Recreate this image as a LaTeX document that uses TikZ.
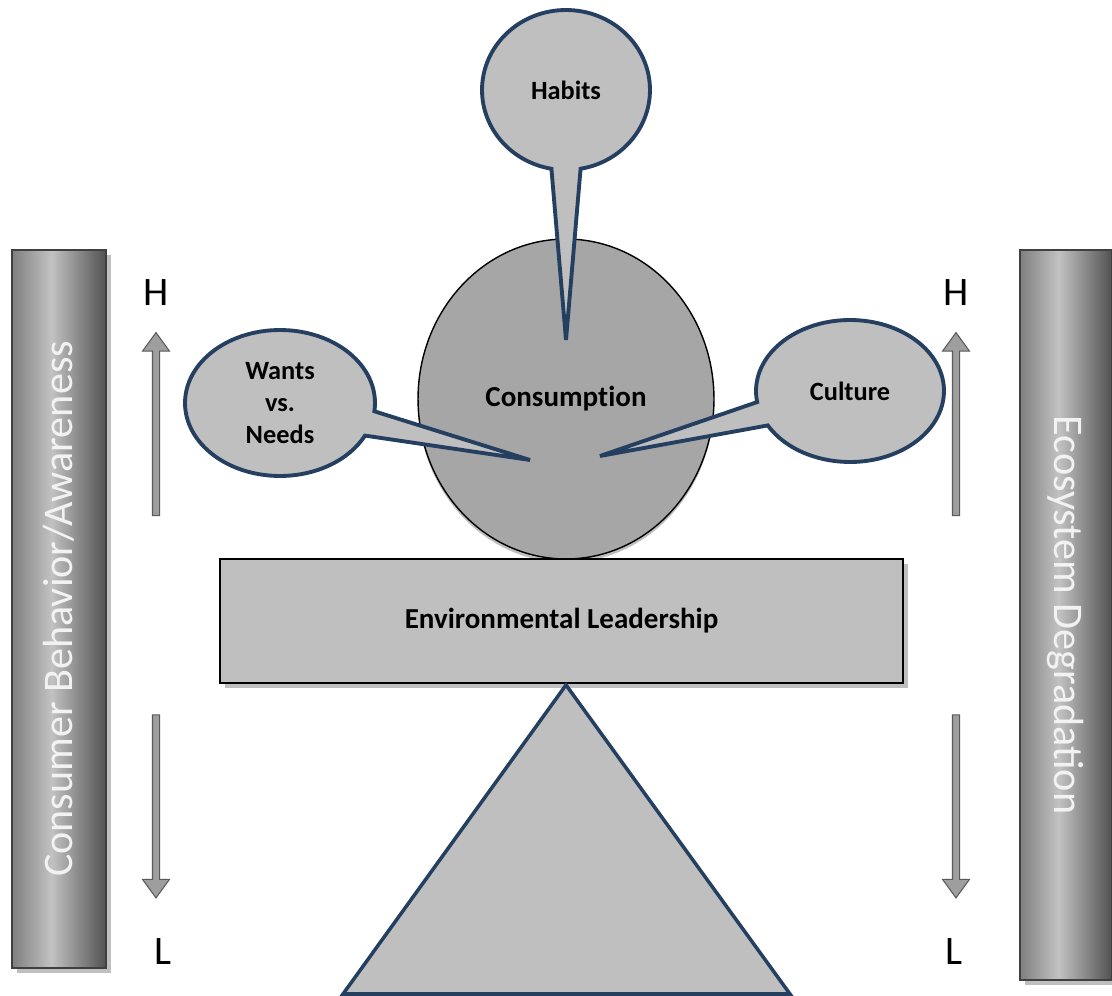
\documentclass[tikz,border=0pt]{standalone}
\usepackage{fontspec}
\setmainfont{Carlito}
\usetikzlibrary{arrows.meta, calc, shapes.geometric, shapes.callouts, shapes.arrows, shadows}

\definecolor{navy}{HTML}{243F60}
\definecolor{lightfill}{HTML}{BFBFBF}
\definecolor{darkfill}{HTML}{A6A6A6}

\pgfdeclarehorizontalshading{barshade}{100bp}{color(0bp)=(black!50); color(25bp)=(black!50);
  color(46bp)=(black!24); color(75bp)=(black!68); color(100bp)=(black!68)}

\tikzset{
  bubble/.style={ellipse callout, draw=navy, line width=2.2pt, fill=lightfill, inner sep=0pt,
    callout pointer arc=20, font=\fontsize{15}{18}\selectfont\bfseries, align=center},
  sidebar/.style={draw=black!75, line width=1pt, shading=barshade, inner sep=0pt,
    drop shadow={shadow xshift=3pt, shadow yshift=-3pt, fill=black!25, opacity=1}},
  bartext/.style={text=black!5, font=\fontsize{24}{28}\selectfont},
  level/.style={font=\fontsize{23}{27}\selectfont},
  trend/.style={single arrow, draw=black!65, line width=0.6pt, fill=black!38, inner sep=0.06cm,
    minimum height=3.66cm, single arrow head extend=0.2cm,
    single arrow tip angle=72, single arrow head indent=0pt},
  boldtext/.style={font=\fontsize{16.5}{20}\selectfont\bfseries}
}

\begin{document}
\begin{tikzpicture}[x=0.02cm, y=-0.02cm]
    \useasboundingbox (0,0) rectangle (1112,996);

    % side bars
    \node [sidebar, minimum width=1.88cm, minimum height=14.36cm] (cbar) at (59,609) {};
    \node [bartext, rotate=90] (ctext) at (cbar) {Consumer Behavior/Awareness};
    \node [sidebar, minimum width=1.84cm, minimum height=14.6cm] (ebar) at (1066,615) {};
    \node [bartext, rotate=-90] (etext) at (ebar) {Ecosystem Degradation};

    % high / low markers
    \node [level] (hleft) at (156,293) {H};
    \node [level] (lleft) at (163,952) {L};
    \node [level] (hright) at (956,293) {H};
    \node [level] (lright) at (954,952) {L};
    \node [trend, shape border rotate=90] (upleft) at (156,426.5) {};
    \node [trend, shape border rotate=270] (downleft) at (156,804) {};
    \node [trend, shape border rotate=90] (upright) at (956,426.5) {};
    \node [trend, shape border rotate=270] (downright) at (956,804) {};

    % consumption and its base
    \node [ellipse, draw, line width=0.8pt, fill=darkfill, inner sep=0pt, boldtext,
           minimum width=5.92cm, minimum height=6.4cm,
           drop shadow={shadow xshift=0pt, shadow yshift=-2pt, fill=black!25, opacity=1}] (cons) at (566,399) {Consump\mbox{t}ion};
    \node [draw, line width=1.1pt, fill=lightfill, boldtext, minimum width=13.66cm, minimum height=2.48cm,
           drop shadow={shadow xshift=3pt, shadow yshift=-3pt, fill=black!25, opacity=1}] (lead) at (561.5,621) {Environmental Leadership};
    \coordinate (apex) at (566,685);
    \coordinate (baseL) at (343,994);
    \coordinate (baseR) at (790,994);
    \draw [draw=navy, line width=2pt, fill=lightfill, line join=miter] (apex) -- (baseL) -- (baseR) -- cycle;

    % callouts
    \coordinate (habtip) at (566,340);
    \coordinate (wantip) at (530,460);
    \coordinate (culttip) at (600,456);
    \node [bubble, minimum width=3.36cm, minimum height=3.2cm, callout absolute pointer={(habtip)}] (habits) at (566,90) {Habits};
    \node [bubble, minimum width=3.8cm, minimum height=2.92cm, callout absolute pointer={(wantip)}] (wants) at (280,403) {Wants\\vs.\\Needs};
    \node [bubble, minimum width=3.76cm, minimum height=2.84cm, callout absolute pointer={(culttip)}] (culture) at (850,391) {Culture};
\end{tikzpicture}
\end{document}
